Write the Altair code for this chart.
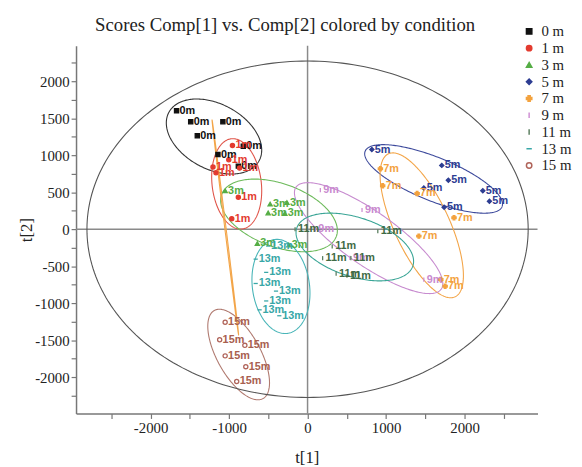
import numpy as np
import pandas as pd
import altair as alt

# ---------------- data ----------------
CONDITIONS = ["0 m", "1 m", "3 m", "5 m", "7 m", "9 m", "11 m", "13 m", "15 m"]
TAGS = ["0m", "1m", "3m", "5m", "7m", "9m", "11m", "13m", "15m"]

t1_0m = [-1669, -1489, -1079, -1405, -1142, -819, -882]
t2_0m = [1600, 1453, 1453, 1263, 1009, 1120, 853]
t1_1m = [-957, -1004, -1205, -1167, -866, -882, -966]
t2_1m = [1133, 940, 840, 764, 827, 431, 143]
t1_3m = [-1050, -477, -263, -502, -289, -640, -238]
t2_3m = [520, 340, 360, 220, 213, -193, -213]
t1_5m = [819, 1710, 1794, 1481, 1740, 2233, 2317]
t2_5m = [1076, 863, 663, 556, 297, 520, 377]
t1_7m = [928, 957, 1396, 1866, 1418, 1698, 1753]
t2_7m = [817, 587, 484, 156, -93, -680, -769]
t1_9m = [163, 694, 100, 540, 1481]
t2_9m = [529, 260, -4, -387, -680]
t1_11m = [-159, 895, 314, 192, 552, 364, 502]
t2_11m = [0, -27, -233, -391, -391, -600, -627]
t1_13m = [-502, -661, -527, -661, -402, -527, -611, -360]
t2_13m = [-227, -404, -583, -733, -836, -969, -1089, -1169]
t1_15m = [-1050, -1120, -799, -1050, -787, -903]
t2_15m = [-1257, -1493, -1569, -1711, -1857, -2057]

T1 = [t1_0m, t1_1m, t1_3m, t1_5m, t1_7m, t1_9m, t1_11m, t1_13m, t1_15m]
T2 = [t2_0m, t2_1m, t2_3m, t2_5m, t2_7m, t2_9m, t2_11m, t2_13m, t2_15m]

# confidence ellipses: centre and two conjugate semi-axis vectors (data units)
ELL_KEYS = ["e0", "e1", "e3", "e5", "e7", "e9", "e11", "e13", "e15", "eline", "hot"]
ELL_CX = [-1192, -903, -364, 1606, 1455, 778, 602, -339, -878, -1048, 0]
ELL_CY = [1253, 613, 187, 680, 53, -120, -240, -773, -1693, 27, 0]
ELL_UX = [576, -70, 731, 872, -425, 925, 740, -84, -310, -169, 2811]
ELL_UY = [-325, 609, -283, -375, 966, -689, -255, 634, 595, 1453, 0]
ELL_VX = [194, -311, 137, 104, -318, 194, 116, -360, -242, 8, 0]
ELL_VY = [389, -41, 401, 272, -158, 295, 380, -54, -142, 1, 2273]

X_TICKS = list(range(-2500, 3000, 500))
Y_TICKS = list(range(-2250, 2500, 250))

# ---------------- styles ----------------
SHAPES = ["square", "circle", "triangle-up", "diamond", "cross",
          "M0,-1L0,1", "M0,-1L0,1", "M-1,0L1,0", "circle"]
STROKES = ["#111111", "#e33b2f", "#55ad45", "#2d3d92", "#f3a23e",
           "#cf8fd4", "#5b7f60", "#38a7a7", "#b0645a"]
FILLS = ["#111111", "#e33b2f", "#55ad45", "#2d3d92", "#f3a23e",
         "#cf8fd4", "#5b7f60", "#38a7a7", "transparent"]
TEXT_COLORS = ["#111111", "#e33b2f", "#55ad45", "#2d3d92", "#f3a23e",
               "#c98acf", "#3f6b45", "#38a7a7", "#a8604f"]
ELL_COLORS = ["#333333", "#e0554a", "#6cba5a", "#3d4a9c", "#f3a548",
              "#c78bcf", "#3aa596", "#49b5b8", "#b07a70", "#f3a548", "#555555"]

rows = []
for cond, tag, xs, ys in zip(CONDITIONS, TAGS, T1, T2):
    for x, y in zip(xs, ys):
        rows.append({"cond": cond, "tag": tag, "t1": x, "t2": y})
points = pd.DataFrame(rows)

tt = np.linspace(0, 2 * np.pi, 241)
erows = []
for k, cx, cy, ux, uy, vx, vy in zip(ELL_KEYS, ELL_CX, ELL_CY, ELL_UX, ELL_UY, ELL_VX, ELL_VY):
    for i, t in enumerate(tt):
        erows.append({"key": k, "i": i,
                      "t1": cx + ux * np.cos(t) + vx * np.sin(t),
                      "t2": cy + uy * np.cos(t) + vy * np.sin(t)})
ell = pd.DataFrame(erows)

xscale = alt.Scale(domain=[-2950, 2930], nice=False, zero=False)
yscale = alt.Scale(domain=[-2490, 2480], nice=False, zero=False)
color_scale = alt.Scale(domain=TAGS + ELL_KEYS, range=TEXT_COLORS + ELL_COLORS)

xaxis = alt.Axis(values=X_TICKS, labelExpr="datum.value % 1000 == 0 ? '' + datum.value : ''",
                 title="t[1]", titleY=45, titleBaseline="middle", labelOverlap=False, labelFlush=False)
yaxis = alt.Axis(values=Y_TICKS, labelExpr="datum.value % 500 == 0 ? '' + datum.value : ''",
                 title="t[2]", titleX=-50, titleBaseline="middle", labelOverlap=False, labelFlush=False)

X = alt.X("t1:Q", scale=xscale, axis=xaxis)
Y = alt.Y("t2:Q", scale=yscale, axis=yaxis)

ellipses = alt.Chart(ell).mark_line(strokeWidth=1.1, clip=True).encode(
    x=X, y=Y,
    color=alt.Color("key:N", scale=color_scale, legend=None),
    order="i:Q",
)

vrule = alt.Chart(pd.DataFrame({"t1": [0]})).mark_rule(color="#8a8a8a", strokeWidth=1.5).encode(x=X)
hrule = alt.Chart(pd.DataFrame({"t2": [0]})).mark_rule(color="#8a8a8a", strokeWidth=1.5).encode(y=Y)

leg = alt.Legend(title=None, orient="none", legendX=452, legendY=-22, labelFont="Liberation Serif",
                 labelFontSize=15, labelColor="#222", symbolSize=30, symbolStrokeWidth=1.5,
                 labelOffset=5, rowPadding=1, padding=0)

pts = alt.Chart(points).mark_point(size=18, strokeWidth=1.3, opacity=1).encode(
    x=X, y=Y,
    shape=alt.Shape("cond:N", scale=alt.Scale(domain=CONDITIONS, range=SHAPES), legend=leg),
    fill=alt.Fill("cond:N", scale=alt.Scale(domain=CONDITIONS, range=FILLS), legend=leg),
    stroke=alt.Stroke("cond:N", scale=alt.Scale(domain=CONDITIONS, range=STROKES), legend=leg),
)

labels = alt.Chart(points).mark_text(align="left", baseline="middle", dx=3, font="Liberation Sans",
                                     fontSize=11, fontWeight="bold").encode(
    x=X, y=Y, text="tag:N",
    color=alt.Color("tag:N", scale=color_scale, legend=None),
)

chart = alt.layer(vrule, hrule, ellipses, pts, labels).properties(
    width=468, height=373,
    autosize="none",
    padding={"left": 69, "top": 35, "right": 37, "bottom": 51},
    title=alt.TitleParams("Scores Comp[1] vs. Comp[2] colored by condition",
                          font="Liberation Serif", fontSize=19, fontWeight="normal",
                          color="#222", anchor="middle", frame="group", dx=-22, offset=-11),
).configure_view(stroke=None).configure_axis(
    grid=False, domainColor="#777", tickColor="#777", domainWidth=1.5, tickWidth=1.2, tickSize=5,
    labelFont="Liberation Serif", labelFontSize=15, labelColor="#222", labelPadding=2,
    titleFont="Liberation Serif", titleFontSize=17, titleFontWeight="normal", titleColor="#222",
)

chart.save("out.html", embed_options={"renderer": "svg", "actions": False})
